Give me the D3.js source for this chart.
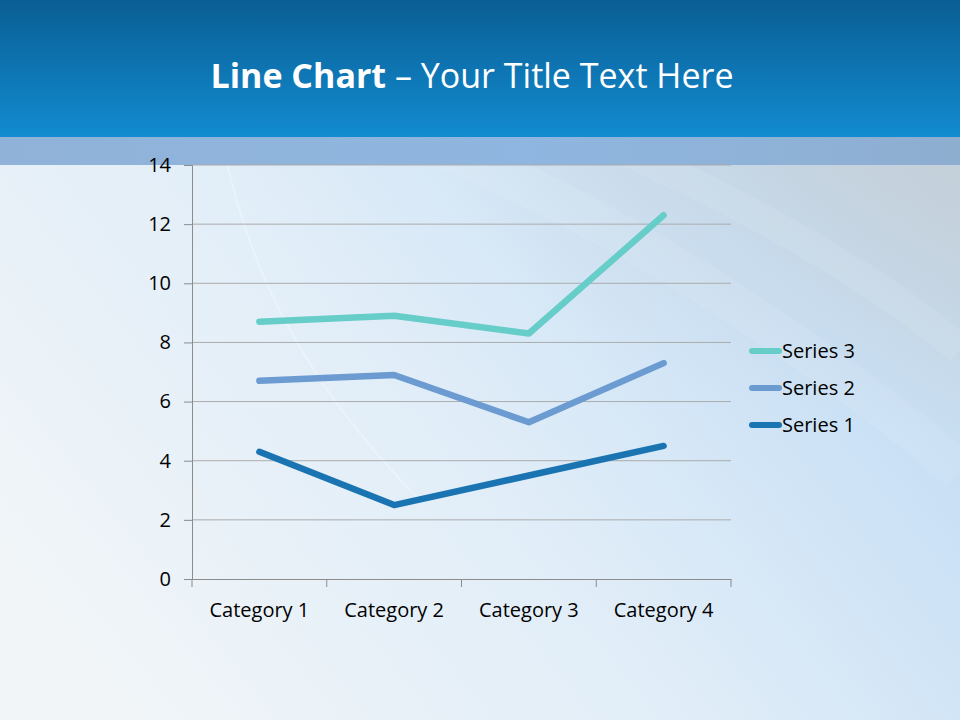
<!DOCTYPE html>
<html>
<head>
<meta charset="utf-8">
<script src="https://cdn.jsdelivr.net/npm/d3@7"></script>
<style>
  body { margin: 0; }
  svg { display: block; font-family: "Open Sans", sans-serif; }
</style>
</head>
<body>
<div id="chart"></div>
<script>
const categories = ["Category 1", "Category 2", "Category 3", "Category 4"];
const seriesNames = ["Series 1", "Series 2", "Series 3"];
// raw values, drawn stacked
const series1 = [4.3, 2.5, 3.5, 4.5];
const series2 = [2.4, 4.4, 1.8, 2.8];
const series3 = [2, 2, 3, 5];
const yTicks = [0, 2, 4, 6, 8, 10, 12, 14];
const colors = ["#1a74b2", "#6b9bd0", "#66cdc8"];

const W = 960, H = 720;
const margin = { top: 165, right: 229, bottom: 141, left: 192 };
const font = "'Open Sans', sans-serif";

const svg = d3.select("#chart").append("svg")
  .attr("width", W)
  .attr("height", H);

const defs = svg.append("defs");

// page background
const bg = defs.append("linearGradient").attr("id", "bg")
  .attr("x1", 0).attr("y1", 0.8).attr("x2", 1).attr("y2", 0.2);
bg.append("stop").attr("offset", "0%").attr("stop-color", "#f1f5f8");
bg.append("stop").attr("offset", "45%").attr("stop-color", "#e0edf8");
bg.append("stop").attr("offset", "78%").attr("stop-color", "#c9e0f5");
bg.append("stop").attr("offset", "100%").attr("stop-color", "#c4d3e0");

// greyish haze in the top right
const haze = defs.append("radialGradient").attr("id", "haze")
  .attr("cx", 1).attr("cy", 0).attr("r", 0.6);
haze.append("stop").attr("offset", "0%").attr("stop-color", "#c3ccd3").attr("stop-opacity", 0.9);
haze.append("stop").attr("offset", "100%").attr("stop-color", "#c3ccd3").attr("stop-opacity", 0);

const head = defs.append("linearGradient").attr("id", "head")
  .attr("x1", 0).attr("y1", 0).attr("x2", 0).attr("y2", 1);
head.append("stop").attr("offset", "0%").attr("stop-color", "#0a5e94");
head.append("stop").attr("offset", "100%").attr("stop-color", "#128bd0");

const band = defs.append("linearGradient").attr("id", "band")
  .attr("x1", 0).attr("y1", 0).attr("x2", 1).attr("y2", 0);
band.append("stop").attr("offset", "0%").attr("stop-color", "#90b2d8");
band.append("stop").attr("offset", "55%").attr("stop-color", "#8fb6e0");
band.append("stop").attr("offset", "100%").attr("stop-color", "#8eaed0");

svg.append("rect").attr("width", W).attr("height", H).attr("fill", "url(#bg)");
svg.append("rect").attr("width", W).attr("height", H).attr("fill", "url(#haze)");

// soft swooshes
const sw = svg.append("g").attr("fill", "none").attr("stroke", "#ffffff");
sw.append("path").attr("d", "M222,140 C245,260 300,380 420,500")
  .attr("stroke-width", 2).attr("stroke-opacity", 0.3);
sw.append("path").attr("d", "M420,140 C580,200 780,320 960,470")
  .attr("stroke-width", 40).attr("stroke-opacity", 0.08);
sw.append("path").attr("d", "M600,140 C740,200 880,280 960,350")
  .attr("stroke-width", 30).attr("stroke-opacity", 0.08);

svg.append("rect").attr("y", 137).attr("width", W).attr("height", 28).attr("fill", "url(#band)");
svg.append("rect").attr("width", W).attr("height", 137).attr("fill", "url(#head)");

const title = svg.append("text")
  .attr("x", 472).attr("y", 88)
  .attr("text-anchor", "middle")
  .attr("fill", "#ffffff")
  .style("font-size", "34px");
title.append("tspan").attr("font-weight", "bold").text("Line Chart");
title.append("tspan").text(" \u2013 Your Title Text Here");

const x = d3.scaleBand()
  .domain(categories)
  .range([margin.left, W - margin.right]);

const y = d3.scaleLinear()
  .domain([0, 14])
  .range([H - margin.bottom, margin.top]);

// gridlines
svg.append("g")
  .selectAll("line")
  .data(yTicks.filter(d => d > 0))
  .enter().append("line")
  .attr("x1", margin.left).attr("x2", W - margin.right)
  .attr("y1", d => y(d)).attr("y2", d => y(d))
  .attr("stroke", "#ababab").attr("stroke-width", 1);

const yAxis = svg.append("g")
  .attr("transform", `translate(${margin.left},0)`)
  .call(d3.axisLeft(y).tickValues(yTicks).tickSize(8).tickPadding(13))
  .attr("font-family", font).attr("font-size", 20);
yAxis.select(".domain").attr("stroke", "#8c8c8c");
yAxis.selectAll(".tick line").attr("stroke", "#8c8c8c");
yAxis.selectAll("text").attr("fill", "#000");

const xAxis = svg.append("g")
  .attr("transform", `translate(0,${H - margin.bottom})`)
  .call(d3.axisBottom(x).tickSize(0).tickPadding(24))
  .attr("font-family", font).attr("font-size", 20);
xAxis.select(".domain").attr("stroke", "#8c8c8c");
xAxis.selectAll("text").attr("fill", "#000");
// category boundary ticks
xAxis.selectAll(".sep")
  .data(categories.concat(["end"]))
  .enter().append("line")
  .attr("x1", (d, i) => i < categories.length ? x(d) : x.range()[1])
  .attr("x2", (d, i) => i < categories.length ? x(d) : x.range()[1])
  .attr("y1", 0).attr("y2", 8)
  .attr("stroke", "#8c8c8c");

// stacked series
const rows = categories.map((c, i) => ({
  cat: c, "Series 1": series1[i], "Series 2": series2[i], "Series 3": series3[i]
}));
const stacked = d3.stack().keys(seriesNames)(rows);

const line = d3.line()
  .x(d => x(d.data.cat) + x.bandwidth() / 2)
  .y(d => y(d[1]));

svg.append("g")
  .selectAll("path")
  .data(stacked)
  .enter().append("path")
  .attr("d", line)
  .attr("fill", "none")
  .attr("stroke", (d, i) => colors[i])
  .attr("stroke-width", 6.5)
  .attr("stroke-linecap", "round")
  .attr("stroke-linejoin", "round");

// legend (Series 3 on top)
const legend = svg.append("g")
  .selectAll("g")
  .data(seriesNames.slice().reverse())
  .enter().append("g")
  .attr("transform", (d, i) => `translate(752,${351 + i * 37})`);
legend.append("line")
  .attr("x1", 0).attr("x2", 27)
  .attr("stroke", d => colors[seriesNames.indexOf(d)])
  .attr("stroke-width", 6)
  .attr("stroke-linecap", "round");
legend.append("text")
  .attr("x", 30).attr("dy", "0.35em")
  .attr("fill", "#000")
  .style("font-size", "20px")
  .text(d => d);
</script>
</body>
</html>
